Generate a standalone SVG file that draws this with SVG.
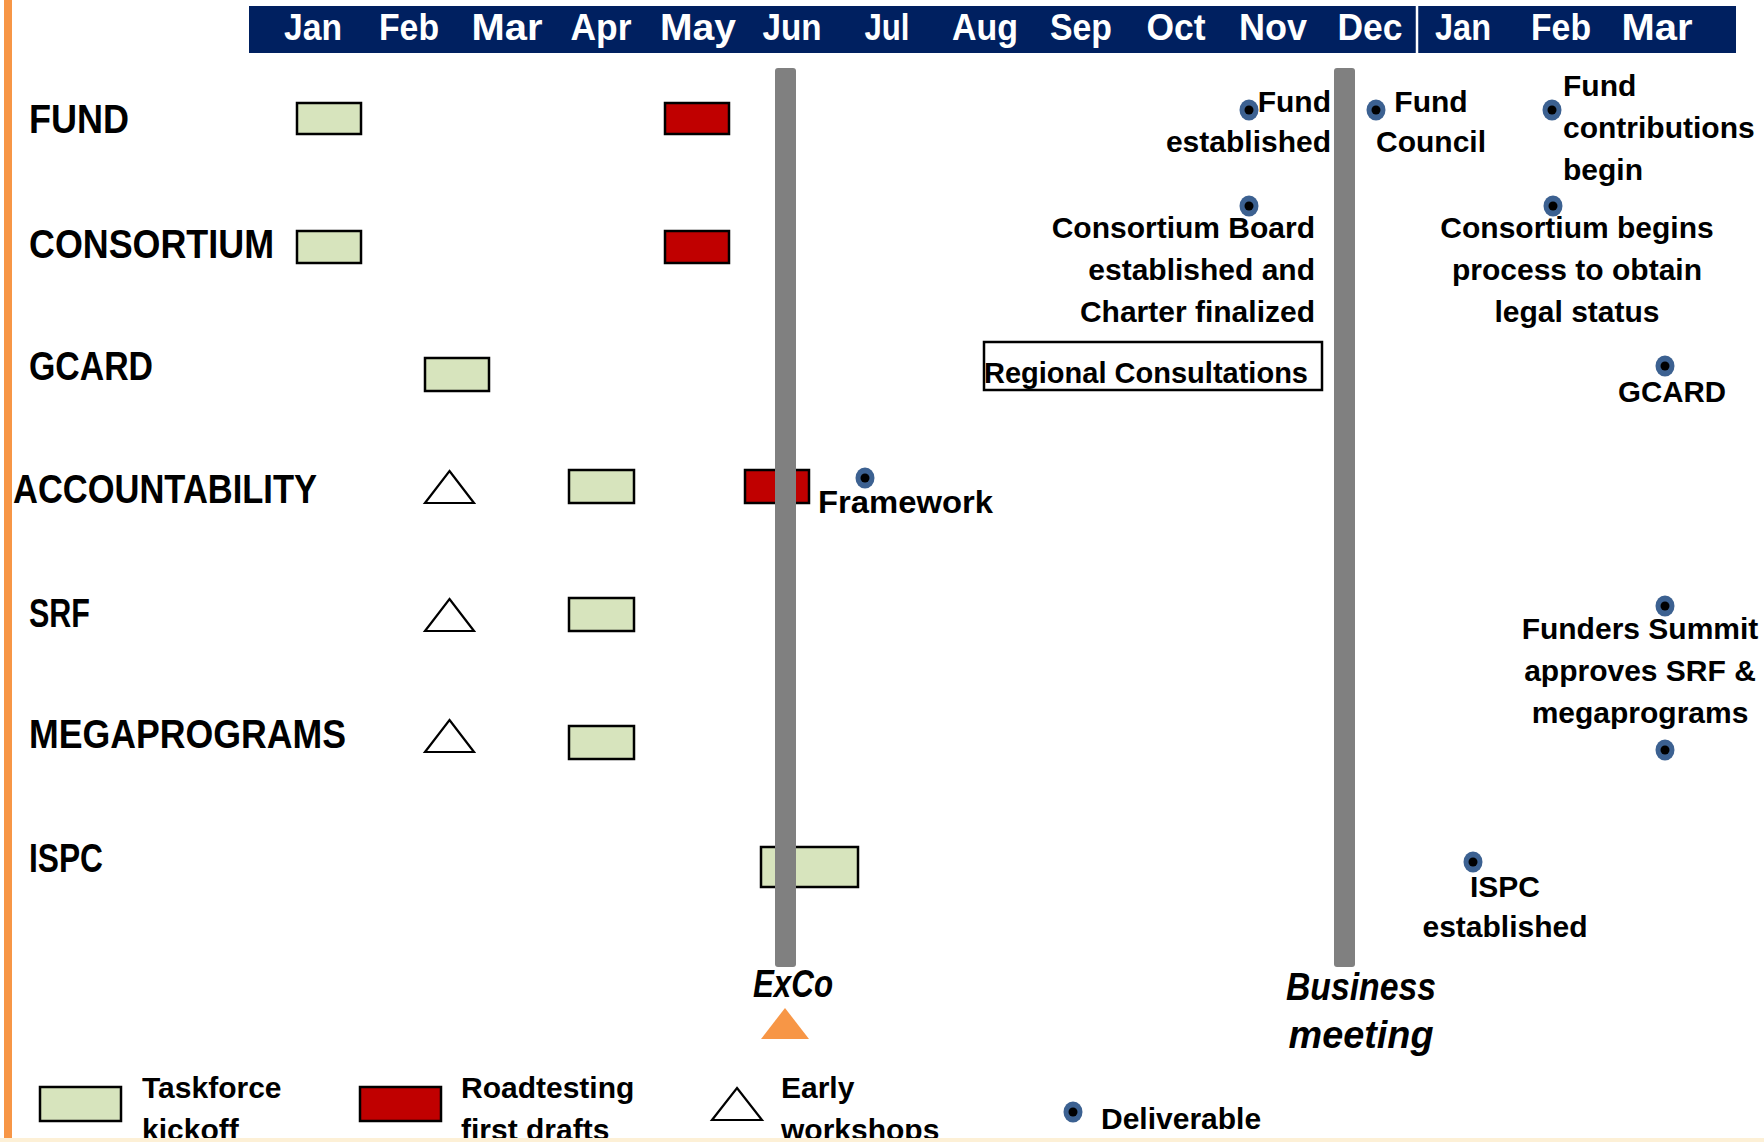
<svg xmlns="http://www.w3.org/2000/svg" width="1764" height="1142" viewBox="0 0 1764 1142">
<style>
text{font-family:"Liberation Sans",Arial,sans-serif;font-weight:bold;fill:#000}
.mon{fill:#fff;font-size:36px;text-anchor:middle}
.row{font-size:40px}
.lbl{font-size:30px}
.mid{text-anchor:middle}
.end{text-anchor:end}
.it{font-style:italic;font-size:38px;text-anchor:middle}
.tf{fill:#D7E4BD;stroke:#000;stroke-width:2.5}
.rd{fill:#C00000;stroke:#000;stroke-width:2.5}
.ew{fill:#fff;stroke:#000;stroke-width:2.2;stroke-linejoin:miter}
.bar{fill:#808080}
</style>
<defs>
<g id="dot"><ellipse cx="0" cy="0" rx="9.5" ry="10.5" fill="#3C6191"/><circle cx="0" cy="0" r="4.5" fill="#000"/></g>
</defs>
<rect x="0" y="0" width="1764" height="1142" fill="#fff"/>
<rect x="4" y="0" width="8" height="1142" fill="#F79646"/>

<g id="header">
<rect x="249" y="6" width="1487" height="47" fill="#002060"/>
<line x1="1417" y1="6" x2="1417" y2="53" stroke="#fff" stroke-width="2.5"/>
<text class="mon" x="313" y="40" textLength="58" lengthAdjust="spacingAndGlyphs">Jan</text>
<text class="mon" x="409" y="40" textLength="60" lengthAdjust="spacingAndGlyphs">Feb</text>
<text class="mon" x="507" y="40" textLength="71" lengthAdjust="spacingAndGlyphs">Mar</text>
<text class="mon" x="601" y="40" textLength="61" lengthAdjust="spacingAndGlyphs">Apr</text>
<text class="mon" x="698" y="40" textLength="76" lengthAdjust="spacingAndGlyphs">May</text>
<text class="mon" x="792" y="40" textLength="59" lengthAdjust="spacingAndGlyphs">Jun</text>
<text class="mon" x="887" y="40" textLength="45" lengthAdjust="spacingAndGlyphs">Jul</text>
<text class="mon" x="985" y="40" textLength="66" lengthAdjust="spacingAndGlyphs">Aug</text>
<text class="mon" x="1081" y="40" textLength="62" lengthAdjust="spacingAndGlyphs">Sep</text>
<text class="mon" x="1176" y="40" textLength="59" lengthAdjust="spacingAndGlyphs">Oct</text>
<text class="mon" x="1273" y="40" textLength="68" lengthAdjust="spacingAndGlyphs">Nov</text>
<text class="mon" x="1370" y="40" textLength="65" lengthAdjust="spacingAndGlyphs">Dec</text>
<text class="mon" x="1463" y="40" textLength="56" lengthAdjust="spacingAndGlyphs">Jan</text>
<text class="mon" x="1561" y="40" textLength="60" lengthAdjust="spacingAndGlyphs">Feb</text>
<text class="mon" x="1657" y="40" textLength="71" lengthAdjust="spacingAndGlyphs">Mar</text>
</g>

<g id="row-labels">
<text class="row" x="29" y="133" textLength="100" lengthAdjust="spacingAndGlyphs">FUND</text>
<text class="row" x="29" y="258" textLength="245" lengthAdjust="spacingAndGlyphs">CONSORTIUM</text>
<text class="row" x="29" y="380" textLength="124" lengthAdjust="spacingAndGlyphs">GCARD</text>
<text class="row" x="13" y="503" textLength="304" lengthAdjust="spacingAndGlyphs">ACCOUNTABILITY</text>
<text class="row" x="29" y="627" textLength="61" lengthAdjust="spacingAndGlyphs">SRF</text>
<text class="row" x="29" y="748" textLength="317" lengthAdjust="spacingAndGlyphs">MEGAPROGRAMS</text>
<text class="row" x="29" y="872" textLength="74" lengthAdjust="spacingAndGlyphs">ISPC</text>
</g>

<g id="row-fund">
<rect class="tf" x="297" y="103" width="64" height="31"/>
<rect class="rd" x="665" y="103" width="64" height="31"/>
</g>
<g id="row-consortium">
<rect class="tf" x="297" y="231" width="64" height="32"/>
<rect class="rd" x="665" y="231" width="64" height="32"/>
</g>
<g id="row-gcard">
<rect class="tf" x="425" y="358" width="64" height="33"/>
</g>
<g id="row-accountability">
<polygon class="ew" points="449.5,471 474,503 425,503"/>
<rect class="tf" x="569" y="470" width="65" height="33"/>
<rect class="rd" x="745" y="470" width="64" height="33"/>
</g>
<g id="row-srf">
<polygon class="ew" points="449.5,599 474,631 425,631"/>
<rect class="tf" x="569" y="598" width="65" height="33"/>
</g>
<g id="row-megaprograms">
<polygon class="ew" points="449.5,720 474,752 425,752"/>
<rect class="tf" x="569" y="726" width="65" height="33"/>
</g>
<g id="row-ispc">
<rect class="tf" x="761" y="847" width="97" height="40"/>
</g>

<g id="milestone-bars">
<rect class="bar" x="775" y="68" width="21" height="899" rx="3"/>
<rect class="bar" x="1334" y="68" width="21" height="899" rx="3"/>
</g>

<g id="deliverables">
<use href="#dot" x="1249" y="110"/>
<text class="lbl end" x="1331" y="112">Fund</text>
<text class="lbl end" x="1331" y="152">established</text>

<use href="#dot" x="1376" y="110"/>
<text class="lbl mid" x="1431" y="112">Fund</text>
<text class="lbl mid" x="1431" y="152">Council</text>

<use href="#dot" x="1552" y="110"/>
<text class="lbl" x="1563" y="96">Fund</text>
<text class="lbl" x="1563" y="138">contributions</text>
<text class="lbl" x="1563" y="180">begin</text>

<use href="#dot" x="1249" y="206"/>
<text class="lbl end" x="1315" y="238">Consortium Board</text>
<text class="lbl end" x="1315" y="280">established and</text>
<text class="lbl end" x="1315" y="322">Charter finalized</text>

<use href="#dot" x="1553" y="206"/>
<text class="lbl mid" x="1577" y="238">Consortium begins</text>
<text class="lbl mid" x="1577" y="280">process to obtain</text>
<text class="lbl mid" x="1577" y="322">legal status</text>

<rect x="984" y="342" width="338" height="48" fill="none" stroke="#000" stroke-width="2.5"/>
<text class="lbl" x="984" y="383" textLength="324" lengthAdjust="spacingAndGlyphs">Regional Consultations</text>

<use href="#dot" x="1665" y="366"/>
<text class="lbl mid" x="1672" y="402" textLength="108" lengthAdjust="spacingAndGlyphs">GCARD</text>

<use href="#dot" x="865" y="478"/>
<text class="lbl" x="818" y="513" style="font-size:31px" textLength="175" lengthAdjust="spacingAndGlyphs">Framework</text>

<use href="#dot" x="1665" y="606"/>
<text class="lbl mid" x="1640" y="639">Funders Summit</text>
<text class="lbl mid" x="1640" y="681">approves SRF &amp;</text>
<text class="lbl mid" x="1640" y="723">megaprograms</text>
<use href="#dot" x="1665" y="750"/>

<use href="#dot" x="1473" y="862"/>
<text class="lbl mid" x="1505" y="897">ISPC</text>
<text class="lbl mid" x="1505" y="937">established</text>
</g>

<g id="meetings">
<text class="it" x="793" y="997" textLength="80" lengthAdjust="spacingAndGlyphs">ExCo</text>
<polygon points="785,1008 809,1039 761,1039" fill="#F79646"/>
<text class="it" x="1361" y="1000" textLength="150" lengthAdjust="spacingAndGlyphs">Business</text>
<text class="it" x="1361" y="1048" textLength="145" lengthAdjust="spacingAndGlyphs">meeting</text>
</g>

<g id="legend">
<rect class="tf" x="40" y="1087" width="81" height="34"/>
<text class="lbl" x="142" y="1098">Taskforce</text>
<text class="lbl" x="142" y="1140">kickoff</text>
<rect class="rd" x="360" y="1087" width="81" height="34"/>
<text class="lbl" x="461" y="1098">Roadtesting</text>
<text class="lbl" x="461" y="1140">first drafts</text>
<polygon class="ew" points="737,1088 762,1120 712,1120"/>
<text class="lbl" x="781" y="1098">Early</text>
<text class="lbl" x="781" y="1140">workshops</text>
<use href="#dot" x="1073" y="1112"/>
<text class="lbl" x="1101" y="1129">Deliverable</text>
</g>

<rect x="0" y="1138" width="1764" height="4" fill="#FDF0D6"/>
</svg>
